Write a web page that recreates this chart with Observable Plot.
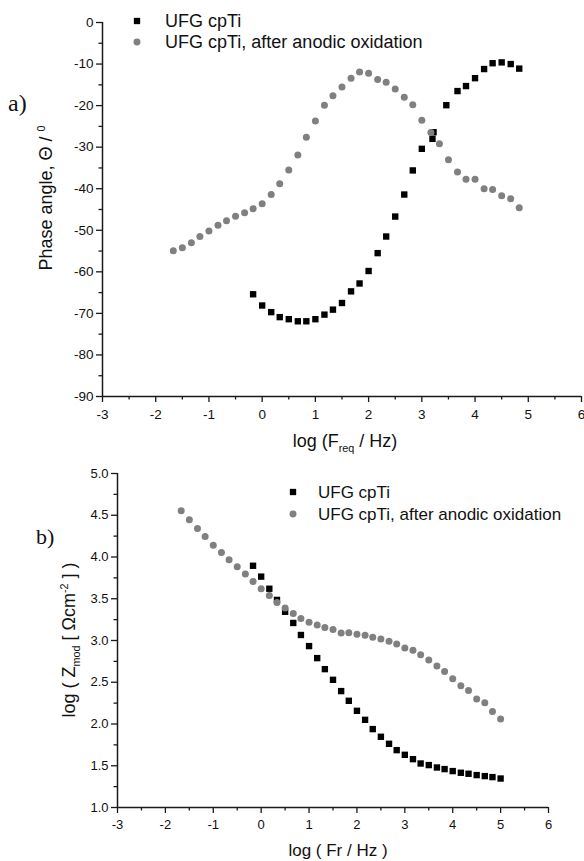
<!DOCTYPE html>
<html><head><meta charset="utf-8">
<script src="https://cdn.jsdelivr.net/npm/d3@7"></script>
<script src="https://cdn.jsdelivr.net/npm/@observablehq/plot@0.6"></script>
<style>
body{margin:0;background:#fff;}
#wrap{width:584px;}
svg{display:block;overflow:visible}
</style></head><body><div id="wrap"></div>
<script>
// ---------- data ----------
const seriesNames = ["UFG cpTi", "UFG cpTi, after anodic oxidation"];

// (a) Phase angle vs log(F)
const phaseBareX = [-0.17,0,0.17,0.33,0.5,0.67,0.83,1.0,1.17,1.33,1.5,1.67,1.83,2.0,2.17,2.33,2.5,2.67,2.83,3.0,3.2,3.22,3.46,3.67,3.83,4.0,4.17,4.33,4.5,4.67,4.83];
const phaseBareY = [-65.4,-68.1,-69.7,-70.9,-71.4,-71.9,-71.9,-71.4,-70.3,-69.1,-67.5,-64.7,-62.8,-59.8,-55.5,-51.5,-46.7,-41.4,-35.6,-30.4,-28.0,-26.4,-19.9,-16.5,-15.3,-13.4,-11.2,-9.8,-9.6,-10.0,-11.1];
const phaseOxX = [-1.67,-1.5,-1.33,-1.17,-1.0,-0.83,-0.67,-0.5,-0.33,-0.17,0,0.17,0.33,0.5,0.67,0.83,1.0,1.17,1.33,1.5,1.67,1.83,2.0,2.17,2.33,2.5,2.67,2.83,3.0,3.17,3.33,3.5,3.67,3.83,4.0,4.17,4.33,4.5,4.67,4.83];
const phaseOxY = [-54.9,-54.2,-53.0,-51.5,-50.2,-48.8,-47.7,-46.6,-45.8,-44.8,-43.6,-41.4,-38.8,-35.5,-31.9,-27.6,-23.7,-19.9,-17.6,-15.5,-13.4,-11.9,-12.2,-13.7,-14.4,-16.0,-18.0,-19.8,-23.5,-26.5,-29.2,-33.0,-36.0,-37.7,-37.7,-40.0,-40.2,-41.7,-42.4,-44.6];

// (b) log|Z| vs log(F)
const zBareX = [-0.17,0,0.17,0.33,0.5,0.67,0.83,1.0,1.17,1.33,1.5,1.67,1.83,2.0,2.17,2.33,2.5,2.67,2.83,3.0,3.17,3.33,3.5,3.67,3.83,4.0,4.17,4.33,4.5,4.67,4.83,5.0];
const zBareY = [3.895,3.765,3.62,3.486,3.344,3.21,3.066,2.933,2.789,2.657,2.529,2.394,2.278,2.158,2.05,1.939,1.847,1.763,1.687,1.631,1.579,1.527,1.508,1.479,1.46,1.436,1.416,1.404,1.388,1.376,1.364,1.347];
const zOxX = [-1.67,-1.5,-1.33,-1.17,-1.0,-0.83,-0.67,-0.5,-0.33,-0.17,0,0.17,0.33,0.5,0.67,0.83,1.0,1.17,1.33,1.5,1.67,1.83,2.0,2.17,2.33,2.5,2.67,2.83,3.0,3.17,3.33,3.5,3.67,3.83,4.0,4.17,4.33,4.5,4.67,4.83,5.0];
const zOxY = [4.553,4.445,4.341,4.245,4.142,4.054,3.966,3.883,3.795,3.707,3.619,3.539,3.455,3.39,3.322,3.263,3.22,3.185,3.156,3.132,3.09,3.092,3.076,3.062,3.038,3.018,2.992,2.958,2.91,2.884,2.83,2.765,2.695,2.629,2.543,2.459,2.40,2.298,2.254,2.15,2.059];

// ticks
const xTicks = [-3,-2,-1,0,1,2,3,4,5,6];
const xMinor = [-2.5,-1.5,-0.5,0.5,1.5,2.5,3.5,4.5,5.5];
const phaseTicks = [0,-10,-20,-30,-40,-50,-60,-70,-80,-90];
const phaseMinor = [-5,-15,-25,-35,-45,-55,-65,-75,-85];
const zTicks = [1.0,1.5,2.0,2.5,3.0,3.5,4.0,4.5,5.0];
const zMinor = [1.25,1.75,2.25,2.75,3.25,3.75,4.25,4.75];

const SANS = "'Liberation Sans', Arial, sans-serif";
const SERIF = "'Liberation Serif', 'Times New Roman', serif";
const BLACK = "#000";
const GRAY = "#808080";
const AXIS = "#1a1a1a";

function axes(xt, xm, yt, ym, yfmt, xDom, yDom, padX, fs) {
  return [
    Plot.axisX(xm, {tickSize: 3.5, tickFormat: () => "", label: null, stroke: AXIS, strokeWidth: 1.3}),
    Plot.axisX(xt, {tickSize: 6, tickPadding: padX, tickFormat: d => String(d), label: null, stroke: AXIS, strokeWidth: 1.3, fill: "#111", fontSize: fs}),
    Plot.axisY(ym, {tickSize: 3.5, tickFormat: () => "", label: null, stroke: AXIS, strokeWidth: 1.3}),
    Plot.axisY(yt, {tickSize: 6, tickPadding: 3, tickFormat: yfmt, label: null, stroke: AXIS, strokeWidth: 1.3, fill: "#111", fontSize: fs}),
    Plot.ruleX([xDom[0]], {stroke: AXIS, strokeWidth: 1.5}),
    Plot.ruleY([yDom[0]], {stroke: AXIS, strokeWidth: 1.5})
  ];
}

const topXDom = [-3, 6], topYDom = [-90, 0];
const topPlot = Plot.plot({
  width: 584, height: 455,
  marginLeft: 102, marginRight: 3, marginTop: 22, marginBottom: 59,
  x: {domain: topXDom}, y: {domain: topYDom},
  style: {fontFamily: SANS, fontSize: "13.5px", background: "#fff"},
  marks: [
    ...axes(xTicks, xMinor, phaseTicks, phaseMinor, d => String(d), topXDom, topYDom, 7, 13.5),
    Plot.dot(phaseBareY, {x: phaseBareX, y: phaseBareY, symbol: "square", r: 3.6, fill: BLACK, stroke: "none"}),
    Plot.dot(phaseOxY, {x: phaseOxX, y: phaseOxY, symbol: "circle", r: 3.5, fill: GRAY, stroke: "none"})
  ]
});

const botXDom = [-3, 6], botYDom = [1, 5];
const botPlot = Plot.plot({
  width: 584, height: 406,
  marginLeft: 117, marginRight: 36, marginTop: 18, marginBottom: 54,
  x: {domain: botXDom}, y: {domain: botYDom},
  style: {fontFamily: SANS, fontSize: "13px", background: "#fff"},
  marks: [
    ...axes(xTicks, xMinor, zTicks, zMinor, d => d.toFixed(1), botXDom, botYDom, 6, 13),
    Plot.dot(zBareY, {x: zBareX, y: zBareY, symbol: "square", r: 3.6, fill: BLACK, stroke: "none"}),
    Plot.dot(zOxY, {x: zOxX, y: zOxY, symbol: "circle", r: 3.5, fill: GRAY, stroke: "none"})
  ]
});

const wrap = document.getElementById("wrap");
wrap.appendChild(topPlot);
wrap.appendChild(botPlot);

// ---------- annotations ----------
function richText(svg, x, y, parts, {size = 15, family = SANS, rotate = 0, anchor = "start"} = {}) {
  const t = d3.select(svg).append("text")
    .attr("transform", `translate(${x},${y}) rotate(${rotate})`)
    .attr("text-anchor", anchor)
    .attr("font-family", family)
    .attr("font-size", size)
    .attr("fill", "#111");
  let shift = 0;
  for (const p of parts) {
    const target = p.sub ? size * 0.3 : p.sup ? -size * 0.38 : 0;
    t.append("tspan")
      .attr("dy", target - shift)
      .attr("font-size", p.sub || p.sup ? size * 0.6 : size)
      .text(p.t);
    shift = target;
  }
  return t;
}

function legend(svg, x, y1, y2, tx, size) {
  const g = d3.select(svg).append("g");
  g.append("path").attr("transform", `translate(${x},${y1})`).attr("d", d3.symbol(d3.symbolSquare, 40)()).attr("fill", BLACK);
  g.append("path").attr("transform", `translate(${x},${y2})`).attr("d", d3.symbol(d3.symbolCircle, 38)()).attr("fill", GRAY);
  richText(svg, tx, y1 + size * 0.36, [{t: seriesNames[0]}], {size});
  richText(svg, tx, y2 + size * 0.36, [{t: seriesNames[1]}], {size});
}

// top chart
legend(topPlot, 137, 21, 42, 165, 18);
richText(topPlot, 345, 447, [{t: "log (F"}, {t: "req", sub: true}, {t: " / Hz)"}], {size: 18, anchor: "middle"});
richText(topPlot, 52, 198, [{t: "Phase angle, Θ / "}, {t: "0", sup: true}], {size: 18, rotate: -90, anchor: "middle"});
richText(topPlot, 8, 111, [{t: "a)"}], {size: 24, family: SERIF});

// bottom chart
legend(botPlot, 293, 37, 59, 318, 17);
richText(botPlot, 338, 401, [{t: "log ( Fr / Hz )"}], {size: 17, anchor: "middle"});
richText(botPlot, 75, 185, [{t: "log ( Z"}, {t: "mod", sub: true}, {t: " [ Ωcm"}, {t: "-2", sup: true}, {t: " ] )"}], {size: 18, rotate: -90, anchor: "middle"});
richText(botPlot, 36, 89, [{t: "b)"}], {size: 22, family: SERIF});
</script>
</body></html>
